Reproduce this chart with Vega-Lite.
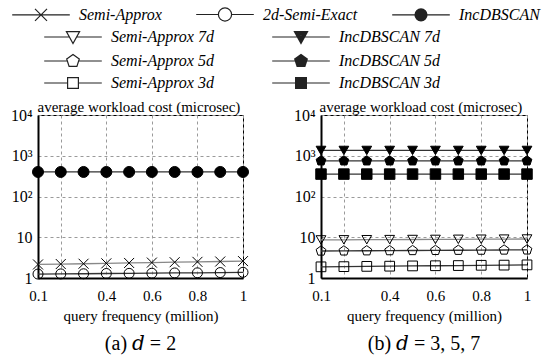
{
  "$schema": "https://vega.github.io/schema/vega-lite/v6.json",
  "background": "white",
  "padding": {"left": 9, "top": 5, "right": 5, "bottom": 5},
  "config": {
    "font": "'Liberation Serif', 'Times New Roman', 'DejaVu Serif', serif",
    "view": {"stroke": "black", "strokeWidth": 1},
    "axis": {
      "labelFont": "'Liberation Serif', 'Times New Roman', 'DejaVu Serif', serif", "labelFontSize": 15, "labelColor": "black",
      "titleFont": "'Liberation Serif', 'Times New Roman', 'DejaVu Serif', serif", "titleFontSize": 15, "titleFontWeight": "normal", "titleColor": "black",
      "domainColor": "black", "domainWidth": 2,
      "gridColor": "#9a9a9a", "gridDash": [3, 3], "gridWidth": 1, "ticks": false
    },
    "legend": {
      "labelFont": "'Liberation Serif', 'Times New Roman', 'DejaVu Serif', serif", "labelFontSize": 16, "labelFontStyle": "italic", "labelColor": "black",
      "symbolSize": 144, "symbolStrokeWidth": 1.2, "symbolStrokeColor": "#222", "symbolFillColor": "transparent",
      "padding": 0, "labelOffset": 30, "rowPadding": 6, "labelLimit": 300
    },
    "title": {"font": "'Liberation Serif', 'Times New Roman', 'DejaVu Serif', serif", "fontSize": 20, "fontWeight": "normal", "color": "black"}
  },
  "data": {"values": [
    {"panel": "a", "series": "Semi-Approx", "x": 0.1, "y": 2.15},
    {"panel": "a", "series": "Semi-Approx", "x": 0.2, "y": 2.2},
    {"panel": "a", "series": "Semi-Approx", "x": 0.3, "y": 2.24},
    {"panel": "a", "series": "Semi-Approx", "x": 0.4, "y": 2.29},
    {"panel": "a", "series": "Semi-Approx", "x": 0.5, "y": 2.34},
    {"panel": "a", "series": "Semi-Approx", "x": 0.6, "y": 2.39},
    {"panel": "a", "series": "Semi-Approx", "x": 0.7, "y": 2.44},
    {"panel": "a", "series": "Semi-Approx", "x": 0.8, "y": 2.49},
    {"panel": "a", "series": "Semi-Approx", "x": 0.9, "y": 2.54},
    {"panel": "a", "series": "Semi-Approx", "x": 1.0, "y": 2.6},
    {"panel": "a", "series": "2d-Semi-Exact", "x": 0.1, "y": 1.25},
    {"panel": "a", "series": "2d-Semi-Exact", "x": 0.2, "y": 1.26},
    {"panel": "a", "series": "2d-Semi-Exact", "x": 0.3, "y": 1.27},
    {"panel": "a", "series": "2d-Semi-Exact", "x": 0.4, "y": 1.29},
    {"panel": "a", "series": "2d-Semi-Exact", "x": 0.5, "y": 1.3},
    {"panel": "a", "series": "2d-Semi-Exact", "x": 0.6, "y": 1.31},
    {"panel": "a", "series": "2d-Semi-Exact", "x": 0.7, "y": 1.33},
    {"panel": "a", "series": "2d-Semi-Exact", "x": 0.8, "y": 1.34},
    {"panel": "a", "series": "2d-Semi-Exact", "x": 0.9, "y": 1.36},
    {"panel": "a", "series": "2d-Semi-Exact", "x": 1.0, "y": 1.38},
    {"panel": "a", "series": "IncDBSCAN", "x": 0.1, "y": 400},
    {"panel": "a", "series": "IncDBSCAN", "x": 0.2, "y": 400},
    {"panel": "a", "series": "IncDBSCAN", "x": 0.3, "y": 400},
    {"panel": "a", "series": "IncDBSCAN", "x": 0.4, "y": 400},
    {"panel": "a", "series": "IncDBSCAN", "x": 0.5, "y": 400},
    {"panel": "a", "series": "IncDBSCAN", "x": 0.6, "y": 400},
    {"panel": "a", "series": "IncDBSCAN", "x": 0.7, "y": 400},
    {"panel": "a", "series": "IncDBSCAN", "x": 0.8, "y": 400},
    {"panel": "a", "series": "IncDBSCAN", "x": 0.9, "y": 400},
    {"panel": "a", "series": "IncDBSCAN", "x": 1.0, "y": 400},
    {"panel": "b", "series": "Semi-Approx 7d", "x": 0.1, "y": 8.6},
    {"panel": "b", "series": "Semi-Approx 7d", "x": 0.2, "y": 8.65},
    {"panel": "b", "series": "Semi-Approx 7d", "x": 0.3, "y": 8.7},
    {"panel": "b", "series": "Semi-Approx 7d", "x": 0.4, "y": 8.75},
    {"panel": "b", "series": "Semi-Approx 7d", "x": 0.5, "y": 8.8},
    {"panel": "b", "series": "Semi-Approx 7d", "x": 0.6, "y": 8.85},
    {"panel": "b", "series": "Semi-Approx 7d", "x": 0.7, "y": 8.9},
    {"panel": "b", "series": "Semi-Approx 7d", "x": 0.8, "y": 8.95},
    {"panel": "b", "series": "Semi-Approx 7d", "x": 0.9, "y": 9.0},
    {"panel": "b", "series": "Semi-Approx 7d", "x": 1.0, "y": 9.05},
    {"panel": "b", "series": "Semi-Approx 5d", "x": 0.1, "y": 4.6},
    {"panel": "b", "series": "Semi-Approx 5d", "x": 0.2, "y": 4.63},
    {"panel": "b", "series": "Semi-Approx 5d", "x": 0.3, "y": 4.66},
    {"panel": "b", "series": "Semi-Approx 5d", "x": 0.4, "y": 4.7},
    {"panel": "b", "series": "Semi-Approx 5d", "x": 0.5, "y": 4.73},
    {"panel": "b", "series": "Semi-Approx 5d", "x": 0.6, "y": 4.76},
    {"panel": "b", "series": "Semi-Approx 5d", "x": 0.7, "y": 4.8},
    {"panel": "b", "series": "Semi-Approx 5d", "x": 0.8, "y": 4.83},
    {"panel": "b", "series": "Semi-Approx 5d", "x": 0.9, "y": 4.87},
    {"panel": "b", "series": "Semi-Approx 5d", "x": 1.0, "y": 4.9},
    {"panel": "b", "series": "Semi-Approx 3d", "x": 0.1, "y": 1.88},
    {"panel": "b", "series": "Semi-Approx 3d", "x": 0.2, "y": 1.9},
    {"panel": "b", "series": "Semi-Approx 3d", "x": 0.3, "y": 1.93},
    {"panel": "b", "series": "Semi-Approx 3d", "x": 0.4, "y": 1.95},
    {"panel": "b", "series": "Semi-Approx 3d", "x": 0.5, "y": 1.98},
    {"panel": "b", "series": "Semi-Approx 3d", "x": 0.6, "y": 2.0},
    {"panel": "b", "series": "Semi-Approx 3d", "x": 0.7, "y": 2.02},
    {"panel": "b", "series": "Semi-Approx 3d", "x": 0.8, "y": 2.05},
    {"panel": "b", "series": "Semi-Approx 3d", "x": 0.9, "y": 2.07},
    {"panel": "b", "series": "Semi-Approx 3d", "x": 1.0, "y": 2.1},
    {"panel": "b", "series": "IncDBSCAN 7d", "x": 0.1, "y": 1350},
    {"panel": "b", "series": "IncDBSCAN 7d", "x": 0.2, "y": 1350},
    {"panel": "b", "series": "IncDBSCAN 7d", "x": 0.3, "y": 1350},
    {"panel": "b", "series": "IncDBSCAN 7d", "x": 0.4, "y": 1350},
    {"panel": "b", "series": "IncDBSCAN 7d", "x": 0.5, "y": 1350},
    {"panel": "b", "series": "IncDBSCAN 7d", "x": 0.6, "y": 1350},
    {"panel": "b", "series": "IncDBSCAN 7d", "x": 0.7, "y": 1350},
    {"panel": "b", "series": "IncDBSCAN 7d", "x": 0.8, "y": 1350},
    {"panel": "b", "series": "IncDBSCAN 7d", "x": 0.9, "y": 1350},
    {"panel": "b", "series": "IncDBSCAN 7d", "x": 1.0, "y": 1350},
    {"panel": "b", "series": "IncDBSCAN 5d", "x": 0.1, "y": 750},
    {"panel": "b", "series": "IncDBSCAN 5d", "x": 0.2, "y": 750},
    {"panel": "b", "series": "IncDBSCAN 5d", "x": 0.3, "y": 750},
    {"panel": "b", "series": "IncDBSCAN 5d", "x": 0.4, "y": 750},
    {"panel": "b", "series": "IncDBSCAN 5d", "x": 0.5, "y": 750},
    {"panel": "b", "series": "IncDBSCAN 5d", "x": 0.6, "y": 750},
    {"panel": "b", "series": "IncDBSCAN 5d", "x": 0.7, "y": 750},
    {"panel": "b", "series": "IncDBSCAN 5d", "x": 0.8, "y": 750},
    {"panel": "b", "series": "IncDBSCAN 5d", "x": 0.9, "y": 750},
    {"panel": "b", "series": "IncDBSCAN 5d", "x": 1.0, "y": 750},
    {"panel": "b", "series": "IncDBSCAN 3d", "x": 0.1, "y": 355},
    {"panel": "b", "series": "IncDBSCAN 3d", "x": 0.2, "y": 355},
    {"panel": "b", "series": "IncDBSCAN 3d", "x": 0.3, "y": 355},
    {"panel": "b", "series": "IncDBSCAN 3d", "x": 0.4, "y": 355},
    {"panel": "b", "series": "IncDBSCAN 3d", "x": 0.5, "y": 355},
    {"panel": "b", "series": "IncDBSCAN 3d", "x": 0.6, "y": 355},
    {"panel": "b", "series": "IncDBSCAN 3d", "x": 0.7, "y": 355},
    {"panel": "b", "series": "IncDBSCAN 3d", "x": 0.8, "y": 355},
    {"panel": "b", "series": "IncDBSCAN 3d", "x": 0.9, "y": 355},
    {"panel": "b", "series": "IncDBSCAN 3d", "x": 1.0, "y": 355}
  ]},
  "spacing": 78,
  "bounds": "flush",
  "resolve": {
    "scale": {"x": "independent", "y": "independent", "shape": "independent"},
    "legend": {"shape": "independent"}
  },
  "hconcat": [
    {
      "width": 205,
      "height": 163,
      "title": {"text": "(a) 𝑑 = 2", "orient": "bottom", "offset": 11},
      "transform": [{"filter": "datum.panel === 'a'"}],
      "encoding": {
        "x": {"field": "x", "type": "quantitative",
          "scale": {"domain": [0.1, 1], "nice": false, "zero": false},
          "axis": {"values": [0.1, 0.2, 0.4, 0.6, 0.8, 1], "labelExpr": "datum.value == 0.2 ? '' : format(datum.value, '~g')", "title": "query frequency (million)", "labelPadding": 10, "titlePadding": 5, "labelFlush": false}},
        "y": {"field": "y", "type": "quantitative",
          "scale": {"type": "log", "domain": [1, 10000], "nice": false},
          "axis": {"values": [1, 10, 100, 1000, 10000], "labelExpr": "datum.value == 1 ? '1' : datum.value == 10 ? '10' : datum.value == 100 ? '10²' : datum.value == 1000 ? '10³' : '10⁴'", "labelPadding": 6, "labelFontSize": 16, "labelFlush": false,
            "title": "average workload cost (microsec)", "titleAngle": 0, "titleAlign": "left", "titleBaseline": "alphabetic", "titleX": -1, "titleY": -4}}
      },
      "layer": [
        {"mark": {"type": "line", "strokeWidth": 1.3},
          "encoding": {
            "detail": {"field": "series", "type": "nominal"},
            "stroke": {"condition": {"test": "datum.series == 'Semi-Approx'", "value": "#888888"}, "value": "#333333"}}},
        {"mark": {"type": "point", "stroke": "black", "strokeWidth": 1, "opacity": 1},
          "encoding": {
            "shape": {"condition": [{"test": "datum.series == 'Semi-Approx'", "value": "M-1,-1L1,1M-1,1L1,-1"}], "value": "circle"},
            "fill": {"condition": [{"test": "datum.series == 'IncDBSCAN'", "value": "black"}], "value": "transparent"},
            "size": {"condition": [{"test": "datum.series == 'IncDBSCAN'", "value": 121}], "value": 100}
          }},
        {"transform": [{"filter": "datum.x < 0"}],
          "mark": {"type": "point", "stroke": "#222222", "strokeWidth": 1.2, "fill": "transparent", "opacity": 1},
          "encoding": {
            "shape": {"field": "series", "type": "nominal",
              "scale": {"domain": ["Semi-Approx", "2d-Semi-Exact", "IncDBSCAN"],
                "range": [
                  "M-4.8,0H4.8M-1,-1L1,1M-1,1L1,-1",
                  "M-4.8,0H-1.1M1.1,0H4.8M1.1,0A1.1,1.1,0,1,1,-1.1,0A1.1,1.1,0,1,1,1.1,0Z",
                  "M-4.8,0H4.8M1,0A1,1,0,1,1,-1,0A1,1,0,1,1,1,0ZM0.8,0A0.8,0.8,0,1,1,-0.8,0A0.8,0.8,0,1,1,0.8,0ZM0.6,0A0.6,0.6,0,1,1,-0.6,0A0.6,0.6,0,1,1,0.6,0ZM0.4,0A0.4,0.4,0,1,1,-0.4,0A0.4,0.4,0,1,1,0.4,0ZM0.2,0A0.2,0.2,0,1,1,-0.2,0A0.2,0.2,0,1,1,0.2,0Z"
                ]},
              "legend": {"orient": "none", "title": null, "columns": 3, "direction": "horizontal", "legendX": -5, "legendY": -109, "columnPadding": 31}}
          }}
      ]
    },
    {
      "width": 206,
      "height": 163,
      "title": {"text": "(b) 𝑑 = 3, 5, 7", "orient": "bottom", "offset": 11},
      "transform": [{"filter": "datum.panel === 'b'"}],
      "encoding": {
        "x": {"field": "x", "type": "quantitative",
          "scale": {"domain": [0.1, 1], "nice": false, "zero": false},
          "axis": {"values": [0.1, 0.2, 0.4, 0.6, 0.8, 1], "labelExpr": "datum.value == 0.2 ? '' : format(datum.value, '~g')", "title": "query frequency (million)", "labelPadding": 10, "titlePadding": 5, "labelFlush": false}},
        "y": {"field": "y", "type": "quantitative",
          "scale": {"type": "log", "domain": [1, 10000], "nice": false},
          "axis": {"values": [1, 10, 100, 1000, 10000], "labelExpr": "datum.value == 1 ? '1' : datum.value == 10 ? '10' : datum.value == 100 ? '10²' : datum.value == 1000 ? '10³' : '10⁴'", "labelPadding": 6, "labelFontSize": 16, "labelFlush": false,
            "title": "average workload cost (microsec)", "titleAngle": 0, "titleAlign": "left", "titleBaseline": "alphabetic", "titleX": -2, "titleY": -4}}
      },
      "layer": [
        {"mark": {"type": "line", "strokeWidth": 1.3},
          "encoding": {
            "detail": {"field": "series", "type": "nominal"},
            "stroke": {"condition": {"test": "datum.series == 'Semi-Approx 7d'", "value": "#888888"}, "value": "#333333"}}},
        {"mark": {"type": "point", "stroke": "black", "strokeWidth": 1, "opacity": 1},
          "encoding": {
            "shape": {"condition": [
              {"test": "indexof(datum.series, '7d') >= 0", "value": "triangle-down"},
              {"test": "indexof(datum.series, '5d') >= 0", "value": "M0,-1.05L1,-0.32L0.62,0.85L-0.62,0.85L-1,-0.32Z"}], "value": "square"},
            "fill": {"condition": [{"test": "indexof(datum.series, 'IncDBSCAN') >= 0", "value": "black"}], "value": "transparent"},
            "size": {"condition": [{"test": "datum.series == 'IncDBSCAN 3d'", "value": 110}], "value": 95}
          }},
        {"transform": [{"filter": "datum.x < 0"}],
          "mark": {"type": "point", "stroke": "#222222", "strokeWidth": 1.2, "fill": "transparent", "opacity": 1},
          "encoding": {
            "shape": {"field": "series", "type": "nominal",
              "scale": {"domain": ["Semi-Approx 7d", "IncDBSCAN 7d", "Semi-Approx 5d", "IncDBSCAN 5d", "Semi-Approx 3d", "IncDBSCAN 3d"],
                "range": [
                  "M-4.8,0H-0.6M0.6,0H4.8M-1.1,-0.9H1.1L0,1.1Z",
                  "M-4.8,0H4.8M-1.1,-0.9H1.1L0,1.1ZM-0.88,-0.767H0.88L0,0.833ZM-0.66,-0.633H0.66L0,0.567ZM-0.44,-0.5H0.44L0,0.3ZM-0.22,-0.367H0.22L0,0.033Z",
                  "M-4.8,0H-0.92M0.92,0H4.8M0,-1.1L1.05,-0.34L0.65,0.9L-0.65,0.9L-1.05,-0.34Z",
                  "M-4.8,0H4.8M0,-1.1L1.05,-0.34L0.65,0.9L-0.65,0.9L-1.05,-0.34ZM0,-0.88L0.84,-0.272L0.52,0.72L-0.52,0.72L-0.84,-0.272ZM0,-0.66L0.63,-0.204L0.39,0.54L-0.39,0.54L-0.63,-0.204ZM0,-0.44L0.42,-0.136L0.26,0.36L-0.26,0.36L-0.42,-0.136ZM0,-0.22L0.21,-0.068L0.13,0.18L-0.13,0.18L-0.21,-0.068Z",
                  "M-4.8,0H-0.9M0.9,0H4.8M-0.9,-0.9H0.9V0.9H-0.9Z",
                  "M-4.8,0H4.8M-0.9,-0.9H0.9V0.9H-0.9ZM-0.7,-0.7H0.7V0.7H-0.7ZM-0.5,-0.5H0.5V0.5H-0.5ZM-0.3,-0.3H0.3V0.3H-0.3ZM-0.1,-0.1H0.1V0.1H-0.1Z"
                ]},
              "legend": {"orient": "none", "title": null, "columns": 2, "direction": "horizontal", "legendX": -256, "legendY": -86, "columnPadding": 55}}
          }}
      ]
    }
  ]
}
